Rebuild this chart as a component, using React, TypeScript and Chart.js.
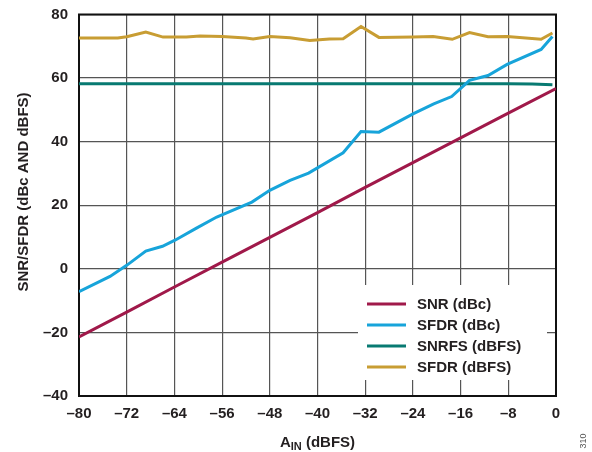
import React, { useEffect, useRef } from "react";
import { Chart, registerables } from "chart.js";

Chart.register(...registerables);

// ---- data ----
const snrX = [-80, -72, -64, -56, -48, -40, -32, -24, -16, -8, 0];
const snrDbc = [-21.4, -13.6, -5.7, 2.1, 9.9, 17.7, 25.6, 33.4, 41.2, 49.0, 56.7];

const sfdrDbcX = [-80, -74.8, -72, -68.8, -66, -63.9, -60.3, -56.9, -51, -48, -44.6, -41.5, -35.7, -32.7, -29.7, -23.9, -20.5, -17.5, -14.5, -11.4, -8.2, -2.5, -0.6];
const sfdrDbc = [-7.2, -2.4, 1.1, 5.6, 7.1, 9.0, 12.8, 16.3, 21.0, 24.7, 27.8, 30.1, 36.5, 43.2, 43.0, 48.8, 51.9, 54.2, 59.3, 60.8, 64.3, 69.0, 73.1];

const snrfsX = [-80, -8, -4, -0.6];
const snrfsDbfs = [58.2, 58.2, 58.1, 57.9];

const sfdrDbfsX = [-80, -73.5, -72, -68.8, -65.9, -62, -59.7, -56, -52, -50.8, -48, -44.6, -41.3, -38, -35.7, -32.7, -29.7, -24, -20.6, -17.4, -14.5, -11.4, -8.2, -2.5, -0.6];
const sfdrDbfs = [72.6, 72.6, 73.0, 74.5, 72.9, 72.9, 73.2, 73.1, 72.6, 72.3, 73.1, 72.7, 71.8, 72.3, 72.4, 76.2, 72.8, 72.9, 73.1, 72.2, 74.3, 73.0, 73.1, 72.2, 74.2];

const seriesNames = ["SNR (dBc)", "SFDR (dBc)", "SNRFS (dBFS)", "SFDR (dBFS)"];
const seriesColors = ["#a0194a", "#17a4da", "#087a72", "#c89d33"];

const xTickMin = -80;
const xTickMax = 0;
const xTickStep = 8;
const yTickMin = -40;
const yTickMax = 80;
const yTickStep = 20;

const yTitle = "SNR/SFDR (dBc AND dBFS)";
const xTitleMain = "A";
const xTitleSub = "IN";
const xTitleRest = " (dBFS)";
const figureId = "310";

const FONT = "Arial, 'Liberation Sans', sans-serif";
const TEXT = "#231f20";

const toPts = (xs: number[], ys: number[]) => xs.map((x, i) => ({ x, y: ys[i] }));
const dash = (v: number) => (v < 0 ? "\u2013" + Math.abs(v) : String(v));

const decorPlugin = {
  id: "decor",
  beforeDatasetsDraw(chart: any) {
    const { ctx, chartArea: a } = chart;
    ctx.save();
    ctx.strokeStyle = "#111";
    ctx.lineWidth = 2;
    ctx.strokeRect(a.left, a.top, a.right - a.left, a.bottom - a.top);
    // legend background box (covers grid)
    ctx.fillStyle = "#ffffff";
    ctx.fillRect(358, 285, 189, 95);
    ctx.restore();
  },
  afterDatasetsDraw(chart: any) {
    const { ctx, chartArea: a } = chart;
    ctx.save();
    // legend
    ctx.font = `bold 15px ${FONT}`;
    ctx.textBaseline = "middle";
    ctx.textAlign = "left";
    const rows = [304, 325, 346, 367];
    seriesNames.forEach((name, i) => {
      ctx.strokeStyle = seriesColors[i];
      ctx.lineWidth = 3;
      ctx.beginPath();
      ctx.moveTo(367, rows[i]);
      ctx.lineTo(406, rows[i]);
      ctx.stroke();
      ctx.fillStyle = TEXT;
      ctx.fillText(name, 417, rows[i] + 1);
    });

    // y title
    ctx.save();
    ctx.translate(24, 192);
    ctx.rotate(-Math.PI / 2);
    ctx.textAlign = "center";
    ctx.textBaseline = "middle";
    ctx.font = `bold 15px ${FONT}`;
    ctx.fillStyle = TEXT;
    ctx.fillText(yTitle, 0, 0);
    ctx.restore();

    // x title with subscript
    const big = `bold 15px ${FONT}`;
    const small = `bold 11px ${FONT}`;
    ctx.font = big;
    const wA = ctx.measureText(xTitleMain).width;
    const wR = ctx.measureText(xTitleRest).width;
    ctx.font = small;
    const wS = ctx.measureText(xTitleSub).width;
    const total = wA + wS + wR;
    let x = (a.left + a.right) / 2 - total / 2;
    const base = 447;
    ctx.textBaseline = "alphabetic";
    ctx.fillStyle = TEXT;
    ctx.font = big;
    ctx.fillText(xTitleMain, x, base);
    x += wA;
    ctx.font = small;
    ctx.fillText(xTitleSub, x, base + 3);
    x += wS;
    ctx.font = big;
    ctx.fillText(xTitleRest, x, base);

    // figure id
    ctx.save();
    ctx.translate(584, 441);
    ctx.rotate(-Math.PI / 2);
    ctx.textAlign = "center";
    ctx.textBaseline = "middle";
    ctx.font = `9px ${FONT}`;
    ctx.fillStyle = "#555";
    ctx.fillText(figureId, 0, 0);
    ctx.restore();
    ctx.restore();
  },
};

export default function App() {
  const ref = useRef<HTMLCanvasElement>(null);
  useEffect(() => {
    document.body.style.margin = "0";
    const datasets = [
      toPts(snrX, snrDbc),
      toPts(sfdrDbcX, sfdrDbc),
      toPts(snrfsX, snrfsDbfs),
      toPts(sfdrDbfsX, sfdrDbfs),
    ].map((data, i) => ({
      label: seriesNames[i],
      data,
      borderColor: seriesColors[i],
      backgroundColor: seriesColors[i],
      borderWidth: 3,
      pointRadius: 0,
      tension: 0,
      fill: false,
    }));
    const chart = new Chart(ref.current as HTMLCanvasElement, {
      type: "line",
      data: { datasets },
      options: {
        animation: false,
        responsive: false,
        devicePixelRatio: 1,
        layout: { padding: { left: 0, right: 36, top: 14.5, bottom: 0 } },
        plugins: { legend: { display: false }, tooltip: { enabled: false } },
        scales: {
          x: {
            type: "linear",
            min: xTickMin,
            max: xTickMax,
            afterFit: (s: any) => {
              s.height = 56;
              s.paddingLeft = 0;
              s.paddingRight = 0;
            },
            ticks: {
              stepSize: xTickStep,
              padding: 9,
              color: TEXT,
              font: { family: FONT, size: 15, weight: "bold" },
              callback: (v: any) => dash(Number(v)),
              maxRotation: 0,
            },
            grid: { color: "#555", lineWidth: 1.2, drawTicks: false },
            border: { display: false },
          },
          y: {
            type: "linear",
            min: yTickMin,
            max: yTickMax,
            afterFit: (s: any) => {
              s.width = 79;
              s.paddingTop = 0;
              s.paddingBottom = 0;
            },
            ticks: {
              stepSize: yTickStep,
              padding: 11,
              color: TEXT,
              font: { family: FONT, size: 15, weight: "bold" },
              callback: (v: any) => dash(Number(v)),
            },
            grid: { color: "#555", lineWidth: 1.2, drawTicks: false },
            border: { display: false },
          },
        },
      },
      plugins: [decorPlugin],
    } as any);
    return () => chart.destroy();
  }, []);
  return (
    <div style={{ width: 592, height: 452 }}>
      <canvas ref={ref} width={592} height={452} style={{ display: "block" }} />
    </div>
  );
}
